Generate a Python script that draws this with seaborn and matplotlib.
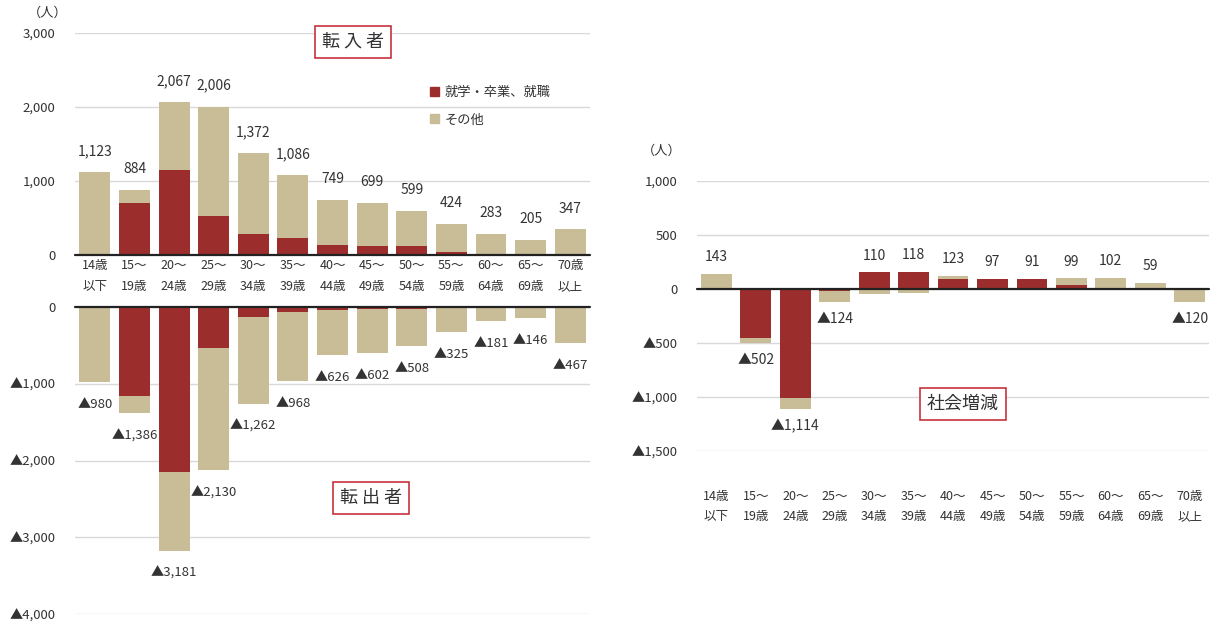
import numpy as np
import seaborn as sns
import matplotlib.pyplot as plt
from matplotlib.patches import Patch

sns.set_style("white")
plt.rcParams['font.family'] = ['Noto Sans CJK JP', 'DejaVu Sans']

ages = ["14歳\n以下", "15～\n19歳", "20～\n24歳", "25～\n29歳", "30～\n34歳", "35～\n39歳",
        "40～\n44歳", "45～\n49歳", "50～\n54歳", "55～\n59歳", "60～\n64歳", "65～\n69歳", "70歳\n以上"]

# 転入者
in_total = [1123, 884, 2067, 2006, 1372, 1086, 749, 699, 599, 424, 283, 205, 347]
in_job = [0, 706, 1149, 524, 285, 226, 140, 126, 126, 40, 0, 0, 0]
# 転出者
out_total = [980, 1386, 3181, 2130, 1262, 968, 626, 602, 508, 325, 181, 146, 467]
out_job = [0, 1162, 2154, 539, 130, 69, 43, 30, 30, 0, 0, 0, 0]

RED = "#9C2D2D"
TAN = "#C8BD97"
BOX = "#C8323C"
GRID = "#D9D9D9"
TXT = "#333333"


def fmt(v):
    return f"{v:,}" if v >= 0 else "▲" + f"{-v:,}"


in_total = np.array(in_total)
in_job = np.array(in_job)
out_total = np.array(out_total)
out_job = np.array(out_job)

# 社会増減 = 転入 - 転出
net_job = in_job - out_job
net_other = (in_total - in_job) - (out_total - out_job)
net_total = in_total - out_total

fig = plt.figure(figsize=(12.18, 6.24), dpi=100)
ax1 = fig.add_axes([0.0616, 0.5913, 0.4228, 0.3558])
ax2 = fig.add_axes([0.0616, 0.016, 0.4228, 0.492])
ax3 = fig.add_axes([0.572, 0.2772, 0.421, 0.4327])


def style(ax, ticks, labels):
    ax.set_yticks(ticks)
    ax.set_yticklabels(labels, fontsize=9.5, color=TXT)
    ax.yaxis.grid(True, color=GRID, lw=1)
    ax.set_axisbelow(True)
    for s in ax.spines.values():
        s.set_visible(False)
    ax.tick_params(length=0)
    ax.tick_params(axis="y", pad=14)
    ax.set_xlabel("")
    ax.set_ylabel("")
    ax.axhline(0, color="#222222", lw=1.6, clip_on=False, zorder=5)


def xlabels(ax, pad):
    ax.tick_params(axis="x", pad=pad)
    for t in ax.get_xticklabels():
        t.set_fontsize(9)
        t.set_color(TXT)
        t.set_linespacing(1.75)
        t.set_va("top")


W = 0.78
bar_kw = dict(saturation=1, width=W, linewidth=0)

# 転入者
sns.barplot(x=ages, y=in_total, color=TAN, ax=ax1, **bar_kw)
sns.barplot(x=ages, y=in_job, color=RED, ax=ax1, **bar_kw)
ax1.set_ylim(0, 3000)
ax1.set_xlim(-0.5, 12.5)
style(ax1, [0, 1000, 2000, 3000], ["0", "1,000", "2,000", "3,000"])
xlabels(ax1, 3)
for i, v in enumerate(in_total):
    ax1.annotate(fmt(v), (i, v), xytext=(0, 15), textcoords="offset points",
                 ha="center", va="center", fontsize=10, color=TXT)

# 転出者
sns.barplot(x=ages, y=-out_total, color=TAN, ax=ax2, **bar_kw)
sns.barplot(x=ages, y=-out_job, color=RED, ax=ax2, **bar_kw)
ax2.set_ylim(-4000, 0)
ax2.set_xlim(-0.5, 12.5)
style(ax2, [0, -1000, -2000, -3000, -4000], ["0", "▲1,000", "▲2,000", "▲3,000", "▲4,000"])
ax2.set_xticklabels([])
for i, v in enumerate(out_total):
    ax2.annotate(fmt(-v), (i, -v), xytext=(0, -16), textcoords="offset points",
                 ha="center", va="center", fontsize=9.5, color=TXT)

# 社会増減 (正負別に積み上げ)
same = np.sign(net_job) == np.sign(net_other)
other_end = np.where(same, net_job + net_other, net_other)
sns.barplot(x=ages, y=other_end, color=TAN, ax=ax3, **bar_kw)
sns.barplot(x=ages, y=net_job, color=RED, ax=ax3, **bar_kw)
ax3.set_ylim(-1500, 1000)
ax3.set_xlim(-0.5, 12.5)
style(ax3, [1000, 500, 0, -500, -1000, -1500], ["1,000", "500", "0", "▲500", "▲1,000", "▲1,500"])
xlabels(ax3, 28)
pos = np.clip(net_job, 0, None) + np.clip(net_other, 0, None)
neg = np.clip(net_job, None, 0) + np.clip(net_other, None, 0)
for i, v in enumerate(net_total):
    if v >= 0:
        ax3.annotate(fmt(v), (i, pos[i]), xytext=(0, 12), textcoords="offset points",
                     ha="center", va="center", fontsize=10, color=TXT)
    else:
        ax3.annotate(fmt(v), (i, neg[i]), xytext=(0, -12), textcoords="offset points",
                     ha="center", va="center", fontsize=10, color=TXT)

# 単位
fig.text(48 / 1218, 1 - 13 / 624, "（人）", fontsize=9.5, color=TXT, ha="center", va="center")
fig.text(662 / 1218, 1 - 151 / 624, "（人）", fontsize=9.5, color=TXT, ha="center", va="center")

# 見出しボックス
box = dict(boxstyle="square,pad=0.4", fc="white", ec=BOX, lw=1.2)
fig.text(353 / 1218, 1 - 42 / 624, "転 入 者", fontsize=13, color=TXT, ha="center", va="center", bbox=box)
fig.text(371 / 1218, 1 - 498 / 624, "転 出 者", fontsize=13, color=TXT, ha="center", va="center", bbox=box)
fig.text(963 / 1218, 1 - 404 / 624, "社会増減", fontsize=13, color=TXT, ha="center", va="center", bbox=box)

# 凡例
handles = [Patch(color=RED, label="就学・卒業、就職"), Patch(color=TAN, label="その他")]
fig.legend(handles=handles, loc="upper left", bbox_to_anchor=(418 / 1218, 1 - 74 / 624),
           frameon=False, fontsize=9.5, handlelength=0.7, handleheight=0.7,
           handletextpad=0.4, labelspacing=1.1, labelcolor=TXT)

fig.savefig("out.png", dpi=100, facecolor="white")
